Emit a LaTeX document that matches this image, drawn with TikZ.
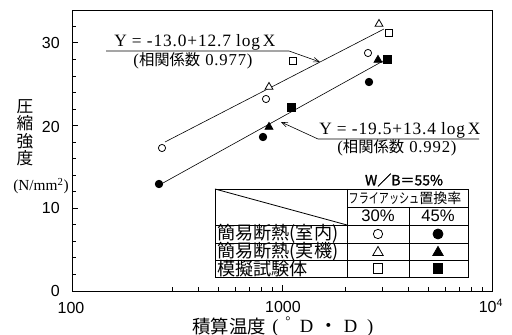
\documentclass[tikz,border=0pt]{standalone}
\usepackage{fontspec}
\setmainfont{Liberation Serif}
\newfontfamily\eqf{Liberation Serif}[LetterSpace=5]
\newfontfamily\cjk{Noto Sans CJK JP}
\newfontfamily\cjkb{Noto Sans CJK JP}[FakeBold=1.5]
\newfontfamily\hel{Liberation Sans}
\usetikzlibrary{arrows.meta,shapes.geometric}
\begin{document}
\begin{tikzpicture}[x=0.75pt,y=-0.75pt,
  axisline/.style={line width=0.7pt},
  regline/.style={line width=0.45pt},
  leader/.style={line width=0.45pt,-{Straight Barb[length=4.5pt,width=3.5pt]}},
  tabline/.style={line width=0.6pt},
  mk/.style={draw,line width=0.6pt,inner sep=0pt},
  ocirc/.style={mk,circle,fill=white,minimum size=5.4pt},
  fcirc/.style={mk,circle,fill=black,minimum size=5.6pt},
  otri/.style={mk,regular polygon,regular polygon sides=3,fill=white,minimum size=6.8pt},
  ftri/.style={mk,regular polygon,regular polygon sides=3,fill=black,minimum size=6.8pt},
  osq/.style={mk,rectangle,fill=white,minimum size=5.4pt},
  fsq/.style={mk,rectangle,fill=black,minimum size=6pt},
  ticklab/.style={font=\hel\fontsize{12}{14}\selectfont,inner sep=0pt},
  eqlab/.style={font=\eqf\fontsize{13}{15}\selectfont,inner sep=0pt},
  corlab/.style={font=\eqf\fontsize{12.5}{14}\selectfont,inner sep=0pt},
  rowlab/.style={font=\cjk\fontsize{13.6}{14}\selectfont,inner sep=0pt,anchor=west},
  ylab/.style={font=\cjk\fontsize{12.5}{14}\selectfont,inner sep=0pt}
]
\useasboundingbox (0,0) rectangle (512,335);
% frame
\draw[axisline] (72,10.5) rectangle (492,291);
% y ticks
\foreach \v in {2,4,6,8,12,14,16,18,22,24,26,28,32}
  \draw[axisline] (72,{291-8.27*\v}) -- ++(3.5,0);
\foreach \v in {10,20,30}
  \draw[axisline] (72,{291-8.27*\v}) -- ++(6,0);
% x ticks
\foreach \m in {3,...,9}
  \draw[axisline] ({72+210*log10(\m)},291) -- ++(0,-3.5);
\foreach \m in {2,...,9}
  \draw[axisline] ({282+210*log10(\m)},291) -- ++(0,-3.5);
\draw[axisline] (282,291) -- ++(0,-6);
% tick labels
\node[ticklab,anchor=east] (y30) at (60,43) {30};
\node[ticklab,anchor=east] (y20) at (60,126.5) {20};
\node[ticklab,anchor=east] (y10) at (60,208.3) {10};
\node[ticklab,anchor=east] (y0) at (60,291) {0};
\node[ticklab] (x100) at (71,308) {100};
\node[ticklab] (x1000) at (283,307) {1000};
\node[ticklab] (x10k) at (491,306) {10\textsuperscript{4}};
% axis titles
\node[ylab] (ya) at (25,107) {圧};
\node[ylab] (yb) at (25,123) {縮};
\node[ylab] (yc) at (25,141) {強};
\node[ylab] (yd) at (25,158) {度};
\node[font=\fontsize{11.5}{13}\selectfont,inner sep=0pt] (yu) at (41,186) {(N/mm\textsuperscript{2})};
\node[font=\cjk\fontsize{13.8}{15}\selectfont,inner sep=0pt,anchor=west] (xt) at (192,327) {積算温度};
\node[font=\fontsize{14}{16}\selectfont,inner sep=0pt,anchor=west] (xu) at (268,327)
  {\makebox[11pt][c]{(}\makebox[8pt][c]{\textsuperscript{°}}\makebox[19.5pt][c]{D}\makebox[13.5pt][c]{\cjk ・}\makebox[19.5pt][c]{D}\makebox[10pt][c]{)}};
% regression lines
\coordinate (u1) at (165,142);
\coordinate (u2) at (384,29);
\coordinate (l1) at (163,183);
\coordinate (l2) at (383,61);
\draw[regline] (u1) -- (u2);
\draw[regline] (l1) -- (l2);
% equation labels and leaders
\node[eqlab,anchor=west] (eq1) at (114,42) {Y = -13.0+12.7 log\,X};
\node[corlab] (cr1) at (193,61) {({\cjk\fontsize{11.5}{13}\selectfont 相関係数} 0.977)};
\coordinate (a1s) at (106,51);
\coordinate (a1k) at (289,51);
\coordinate (a1e) at (320,62);
\draw[leader] (a1s) -- (a1k) -- (a1e);
\node[eqlab,anchor=west] (eq2) at (319,130) {Y = -19.5+13.4 log\,X};
\node[corlab] (cr2) at (397,148) {({\cjk\fontsize{11.5}{13}\selectfont 相関係数} 0.992)};
\coordinate (a2s) at (479,139);
\coordinate (a2k) at (318,139);
\coordinate (a2e) at (281,122);
\draw[leader] (a2s) -- (a2k) -- (a2e);
% data markers
\node[ocirc] (oc1) at (162,148) {};
\node[ocirc] (oc2) at (266,99) {};
\node[ocirc] (oc3) at (368,53) {};
\node[fcirc] (fc1) at (159,184) {};
\node[fcirc] (fc2) at (263,137) {};
\node[fcirc] (fc3) at (369,82) {};
\node[otri] (ot1) at (269,87) {};
\node[otri] (ot2) at (379,24) {};
\node[ftri] (ft1) at (269,127) {};
\node[ftri] (ft2) at (378,60) {};
\node[osq] (os1) at (293,61) {};
\node[osq] (os2) at (389,33) {};
\node[fsq] (fs1) at (291,107) {};
\node[fsq] (fs2) at (387,59) {};
% legend table
\node[font=\cjkb\fontsize{10.5}{12}\selectfont,inner sep=0pt] (wb) at (404,180) {W／B＝55\%};
\draw[tabline,fill=white] (215,189) rectangle (468,277);
\draw[tabline] (347,207) -- (468,207);
\draw[tabline] (215,225) -- (468,225);
\draw[tabline] (215,243) -- (468,243);
\draw[tabline] (215,260) -- (468,260);
\draw[tabline] (347,189) -- (347,277);
\draw[tabline] (409,207) -- (409,277);
\draw[tabline] (215,189) -- (347,225);
\node[font=\cjk\fontsize{10.5}{12}\selectfont,inner sep=0pt] (fa) at (405,198)
  {\scalebox{0.72}[1]{フライアッシュ}置換率};
\node[font=\hel\fontsize{12.5}{14}\selectfont,inner sep=0pt] (p30) at (378,216) {30\%};
\node[font=\hel\fontsize{12.5}{14}\selectfont,inner sep=0pt] (p45) at (438,216) {45\%};
\node[rowlab] (r1) at (217,234) {簡易断熱(室内)};
\node[rowlab] (r2) at (217,251.5) {簡易断熱(実機)};
\node[rowlab] (r3) at (217,268.5) {模擬試験体};
\node[ocirc,minimum size=7pt] (lo1) at (378,234) {};
\node[fcirc,minimum size=7.5pt] (lf1) at (438,234) {};
\node[otri,minimum size=9pt] (lo2) at (378,252.5) {};
\node[ftri,minimum size=9pt] (lf2) at (438,252.5) {};
\node[osq,minimum size=7pt] (lo3) at (378,268.5) {};
\node[fsq,minimum size=7pt] (lf3) at (438,268.5) {};
\end{tikzpicture}
\end{document}
